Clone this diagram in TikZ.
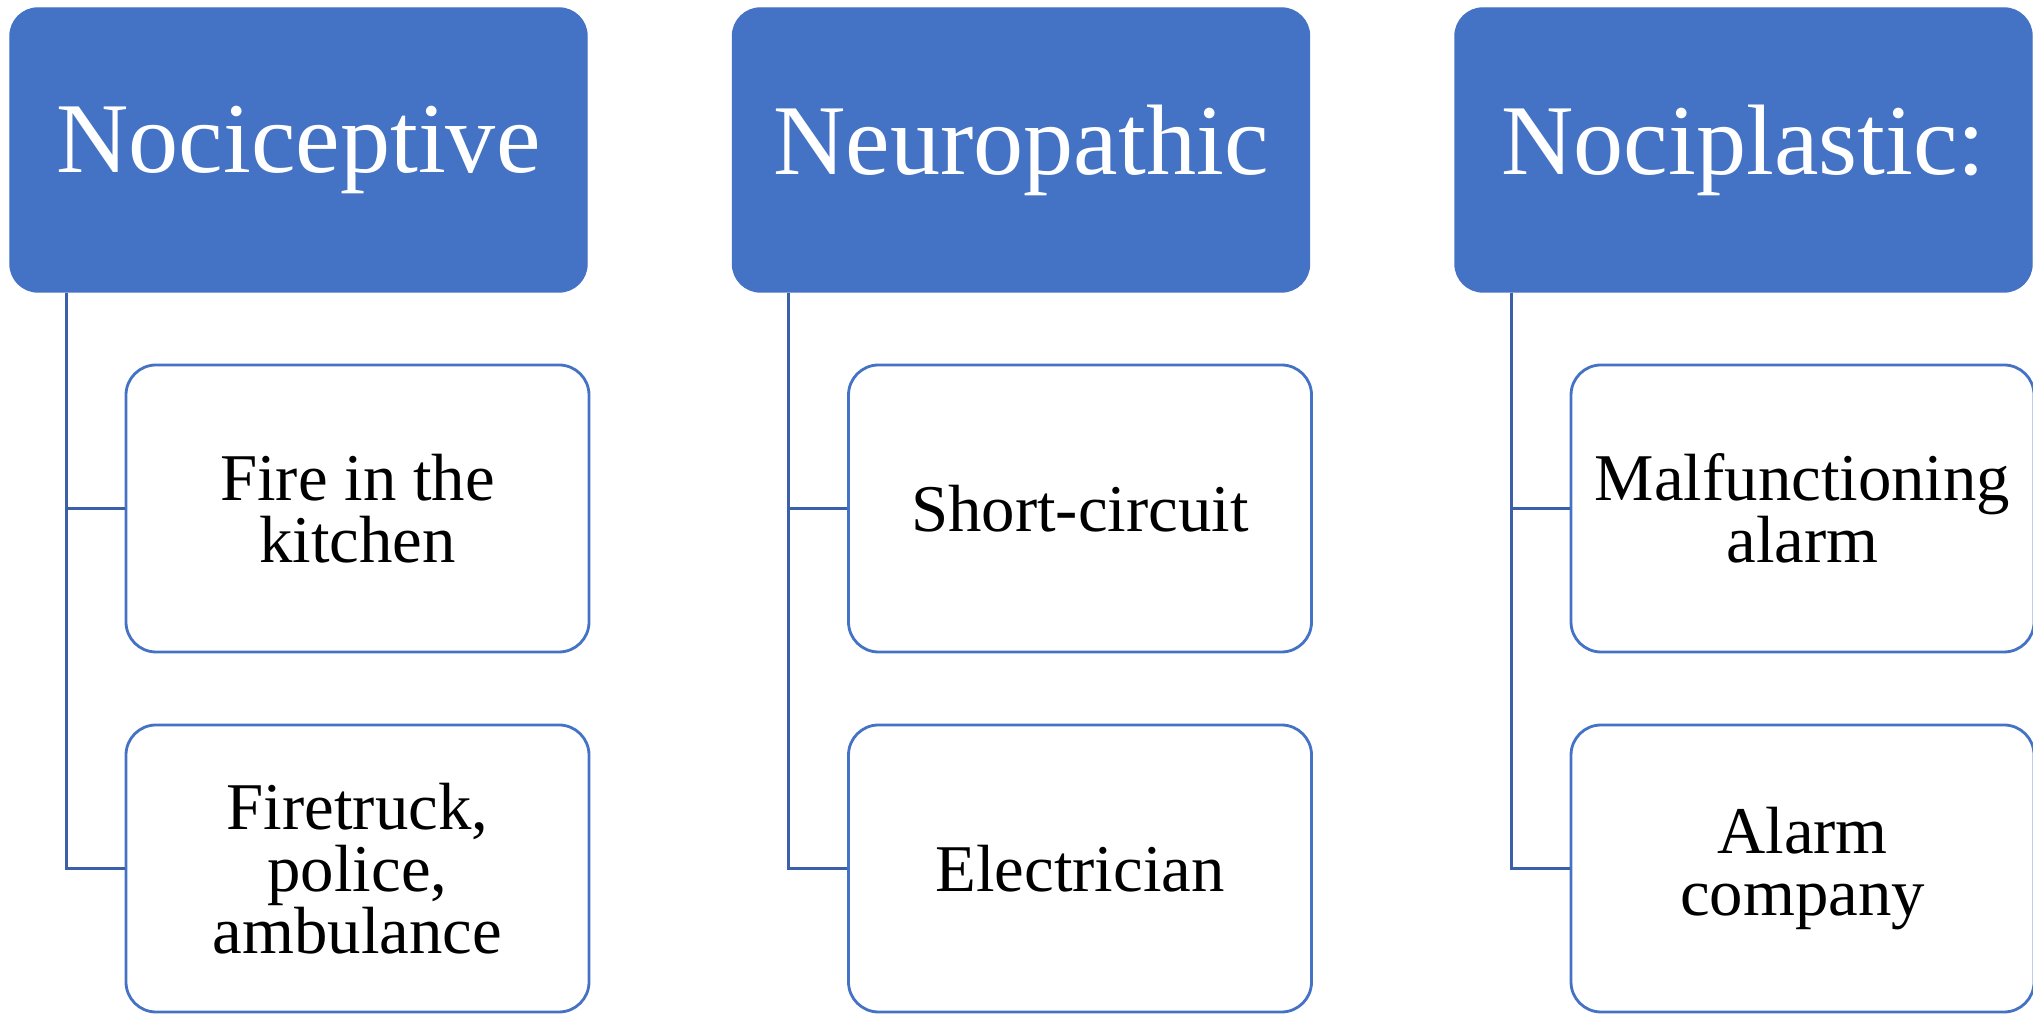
\documentclass[tikz,border=0pt]{standalone}
\usepackage{fontspec}
\setmainfont{Liberation Serif}
\usepackage{tikz}
\definecolor{HeadBlue}{HTML}{4472C4}
\definecolor{LinkBlue}{HTML}{3B5FA8}

\tikzset{
  head/.style={rectangle, fill=HeadBlue, draw=HeadBlue, rounded corners=0.28cm,
    minimum width=5.77cm, minimum height=2.84cm, inner sep=0pt,
    text=white, font=\fontsize{28.5}{34}\selectfont},
  item/.style={rectangle, draw=HeadBlue, line width=0.8pt, rounded corners=0.3cm,
    minimum width=4.63cm, minimum height=2.87cm, inner sep=0pt,
    align=center, font=\fontsize{19}{17.6}\selectfont},
  link/.style={draw=LinkBlue, line width=0.8pt}
}

\begin{document}
\begin{tikzpicture}
      \useasboundingbox (0,0) rectangle (20.33,10.14);

      % headers
      \node (A) [head] at (2.985, 8.64) {Nociceptive};
      \node (B) [head] at (10.21, 8.64) {Neuropathic};
      \node (C) [head] at (17.435, 8.64) {Nociplastic:};

      % items
      \node (A1) [item] at (3.575, 5.055) {Fire in the\\kitchen};
      \node (A2) [item] at (3.575, 1.455) {Firetruck,\\police,\\ambulance};
      \node (B1) [item] at (10.80, 5.055) {Short-circuit};
      \node (B2) [item] at (10.80, 1.455) {Electrician};
      \node (C1) [item] at (18.025, 5.055) {Malfunctioning\\alarm};
      \node (C2) [item] at (18.025, 1.455) {Alarm\\company};

      % links
      \draw[link] ([xshift=0.57cm]A.south west) |- (A1.west);
      \draw[link] ([xshift=0.57cm]A.south west) |- (A2.west);
      \draw[link] ([xshift=0.57cm]B.south west) |- (B1.west);
      \draw[link] ([xshift=0.57cm]B.south west) |- (B2.west);
      \draw[link] ([xshift=0.57cm]C.south west) |- (C1.west);
      \draw[link] ([xshift=0.57cm]C.south west) |- (C2.west);
    \end{tikzpicture}
\end{document}
